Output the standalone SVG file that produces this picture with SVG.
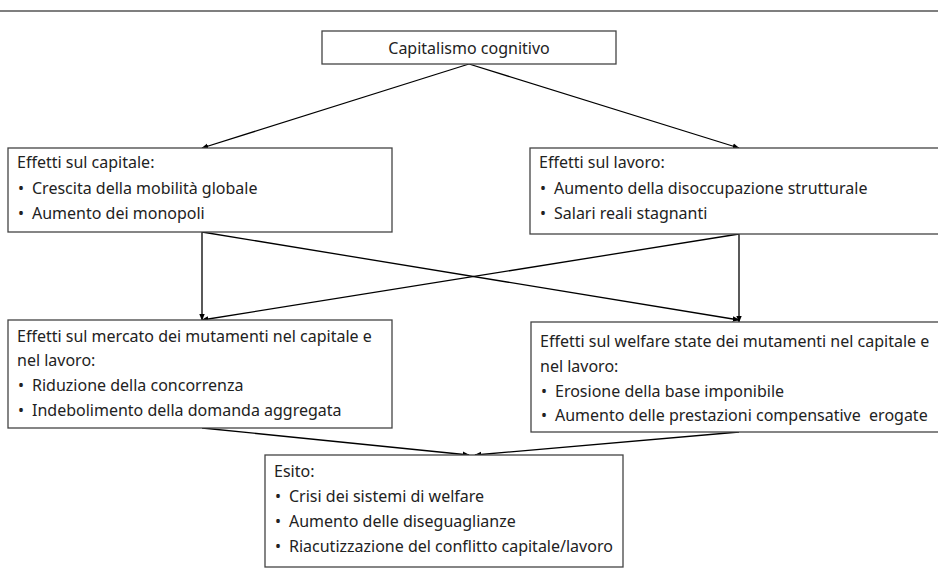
<svg xmlns="http://www.w3.org/2000/svg" width="938" height="576" viewBox="0 0 938 576">
<style>
.box{fill:#fff;stroke:#444;stroke-width:1.3}
.t{font-family:"Noto Sans","Open Sans",sans-serif;font-size:16px;fill:#222}
.c{stroke:#000;stroke-width:1.3;fill:none;marker-end:url(#ah)}
</style>
<defs>
<marker id="ah" viewBox="0 0 10 10" refX="9" refY="5" markerWidth="7" markerHeight="7" markerUnits="userSpaceOnUse" orient="auto">
<path d="M0,1 L10,5 L0,9 z" fill="#000"/>
</marker>
</defs>
<rect width="938" height="576" fill="#fff"/>
<line x1="0" y1="11" x2="938" y2="11" stroke="#555" stroke-width="1.5"/>
<g id="connectors">
<line class="c" x1="469" y1="64" x2="202" y2="148"/>
<line class="c" x1="469" y1="64" x2="739" y2="148"/>
<line class="c" x1="202" y1="232" x2="202" y2="320"/>
<line class="c" x1="202" y1="232" x2="739" y2="320"/>
<line class="c" x1="739" y1="234" x2="739" y2="322"/>
<line class="c" x1="739" y1="234" x2="202" y2="320"/>
<line class="c" x1="202" y1="428" x2="469" y2="455"/>
<line class="c" x1="739" y1="432" x2="475" y2="455"/>
</g>
<g id="n-top">
<rect class="box" x="322" y="31" width="294" height="33"/>
<text class="t" x="469" y="54" text-anchor="middle">Capitalismo cognitivo</text>
</g>
<g id="n-capitale">
<rect class="box" x="8" y="148" width="384" height="84"/>
<text class="t" x="17" y="168">Effetti sul capitale:</text>
<text class="t" y="194"><tspan x="18">•</tspan><tspan x="32">Crescita della mobilità globale</tspan></text>
<text class="t" y="219"><tspan x="18">•</tspan><tspan x="32">Aumento dei monopoli</tspan></text>
</g>
<g id="n-lavoro">
<rect class="box" x="530" y="148" width="420" height="86"/>
<text class="t" x="539" y="168">Effetti sul lavoro:</text>
<text class="t" y="194"><tspan x="540">•</tspan><tspan x="554">Aumento della disoccupazione strutturale</tspan></text>
<text class="t" y="219"><tspan x="540">•</tspan><tspan x="554">Salari reali stagnanti</tspan></text>
</g>
<g id="n-mercato">
<rect class="box" x="8" y="320" width="384" height="108"/>
<text class="t" x="17" y="342">Effetti sul mercato dei mutamenti nel capitale e</text>
<text class="t" x="17" y="366">nel lavoro:</text>
<text class="t" y="391"><tspan x="18">•</tspan><tspan x="32">Riduzione della concorrenza</tspan></text>
<text class="t" y="416"><tspan x="18">•</tspan><tspan x="32">Indebolimento della domanda aggregata</tspan></text>
</g>
<g id="n-welfare">
<rect class="box" x="531" y="322" width="420" height="110"/>
<text class="t" x="540" y="347">Effetti sul welfare state dei mutamenti nel capitale e</text>
<text class="t" x="540" y="372">nel lavoro:</text>
<text class="t" y="397"><tspan x="541">•</tspan><tspan x="555">Erosione della base imponibile</tspan></text>
<text class="t" y="421"><tspan x="541">•</tspan><tspan x="555">Aumento delle prestazioni compensative&#160; erogate</tspan></text>
</g>
<g id="n-esito">
<rect class="box" x="265" y="455" width="358" height="112"/>
<text class="t" x="274" y="477">Esito:</text>
<text class="t" y="502"><tspan x="275">•</tspan><tspan x="289">Crisi dei sistemi di welfare</tspan></text>
<text class="t" y="527"><tspan x="275">•</tspan><tspan x="289">Aumento delle diseguaglianze</tspan></text>
<text class="t" y="552"><tspan x="275">•</tspan><tspan x="289">Riacutizzazione del conflitto capitale/lavoro</tspan></text>
</g>
</svg>
